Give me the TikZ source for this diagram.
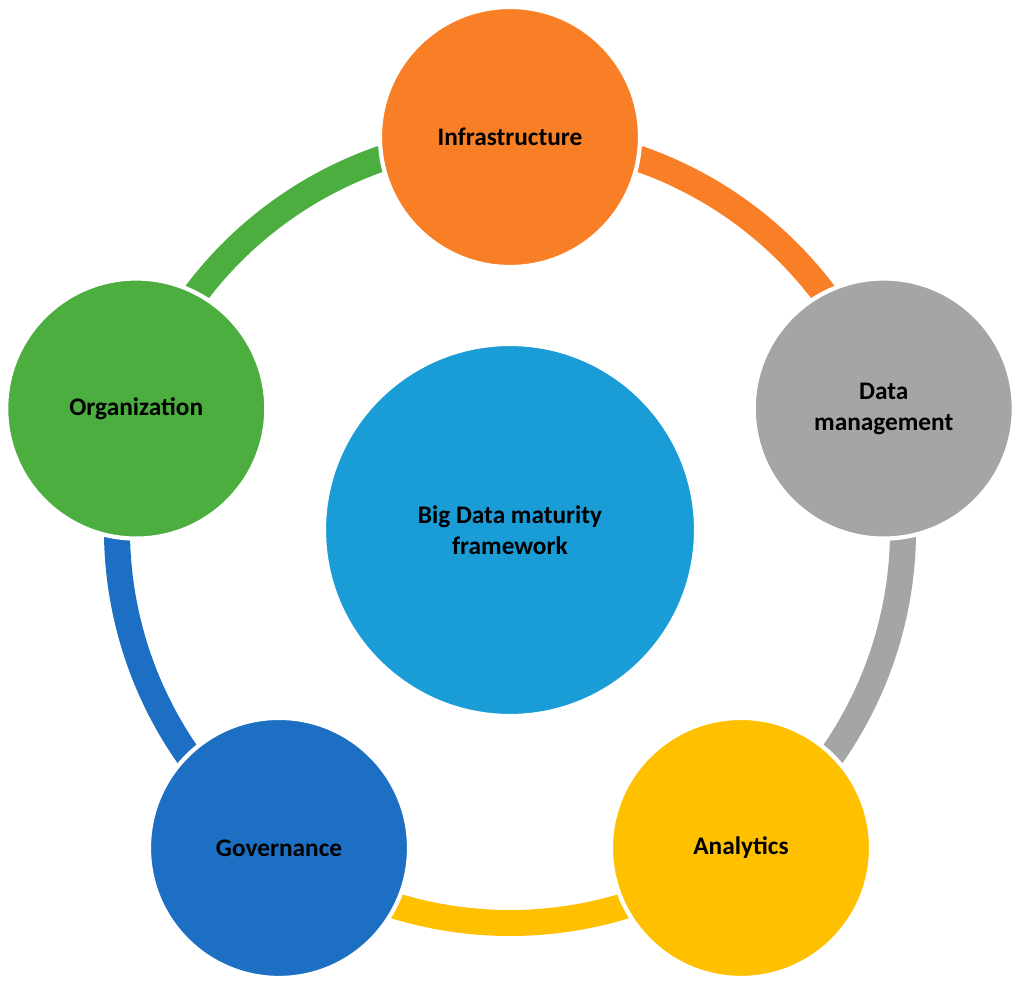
\documentclass[tikz,border=0pt]{standalone}
\usepackage{fontspec}
\setmainfont{Carlito}
\usetikzlibrary{calc}
\definecolor{corange}{HTML}{F97F26}
\definecolor{cgray}{HTML}{A5A5A5}
\definecolor{cyellow}{HTML}{FFC000}
\definecolor{cblue}{HTML}{1C6FC2}
\definecolor{cgreen}{HTML}{4BAE3F}
\definecolor{ccenter}{HTML}{1A9DD7}
\begin{document}
\begin{tikzpicture}[x=0.025cm,y=0.025cm,
  ball/.style={circle,draw=white,line width=3pt,minimum size=6.5cm,inner sep=0pt,align=center,font=\fontsize{18}{22}\selectfont\bfseries,text=black},
  ring/.style={line width=0.65cm}]
\useasboundingbox (0,0) rectangle (1024,985);
\coordinate (c) at (510,455);
\foreach \a/\col in {90/corange,18/cgray,-54/cyellow,-126/cblue,162/cgreen}{
  \draw[ring,\col] ($(c)+(\a:393)$) arc[start angle=\a,end angle=\a-72,radius=393];
}
\node[ball,fill=ccenter,minimum size=9.3cm] (center) at (c) {Big Data maturity\\framework};
\node[ball,fill=corange] (infra) at ($(c)+(90:393)$) {Infrastructure};
\node[ball,fill=cgray] (dm) at ($(c)+(18:393)$) {Data\\management};
\node[ball,fill=cyellow] (ana) at ($(c)+(-54:393)$) {Analytics};
\node[ball,fill=cblue] (gov) at ($(c)+(-126:393)$) {Governance};
\node[ball,fill=cgreen] (org) at ($(c)+(162:393)$) {Organization};
\end{tikzpicture}
\end{document}
